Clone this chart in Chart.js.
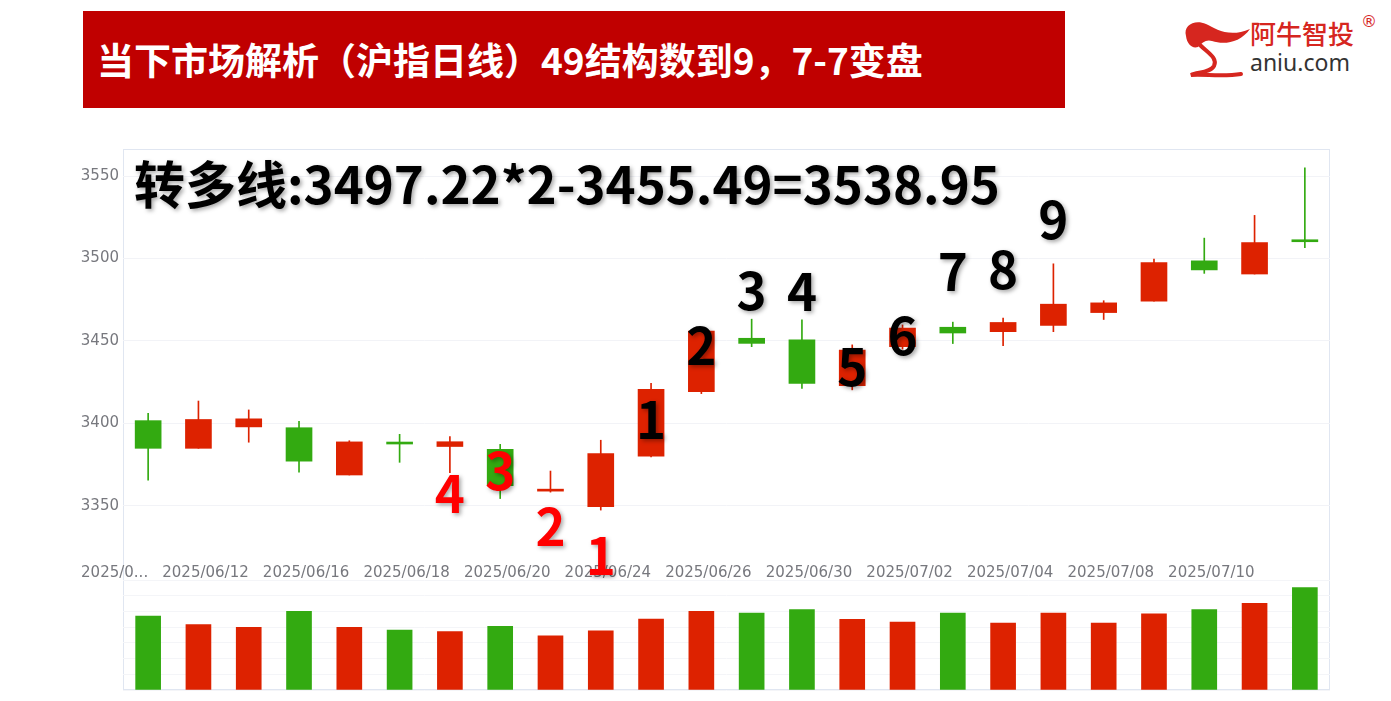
<!DOCTYPE html>
<html lang="zh">
<head>
<meta charset="utf-8">
<script src="https://cdn.jsdelivr.net/npm/chart.js"></script>
<style>
    body { margin: 0; width: 1391px; height: 701px; background: #fff; position: relative; overflow: hidden; font-family: "Noto Sans CJK SC", sans-serif; }
    .titulo { position: absolute; left: 83px; top: 11px; width: 982px; height: 97px; background: #c00000; color: #fff; font-weight: bold; font-size: 37px; line-height: 97px; padding-left: 14px; box-sizing: border-box; white-space: nowrap; }
    .logo { position: absolute; left: 1183px; top: 12px; width: 208px; height: 70px; }
    .logo svg { position: absolute; left: 0; top: 4px; }
    .logo .marca { position: absolute; left: 67px; top: 4px; font-size: 26px; line-height: 34px; color: #d6261f; font-weight: 500; }
    .logo .web { position: absolute; left: 67px; top: 36px; font-family: "Noto Sans", sans-serif; font-size: 23px; line-height: 28px; color: #333; }
    .logo .reg { position: absolute; left: 178px; top: 0px; font-family: "DejaVu Sans", sans-serif; font-size: 16px; color: #d6261f; }
    .marco { position: absolute; left: 123px; top: 149px; width: 1207px; height: 541px; border: 1px solid #e0e6f1; box-sizing: border-box; }
    #precio { position: absolute; left: 0; top: 0; }
    #volumen { position: absolute; left: 0; top: 575px; }
</style>
</head>
<body>
<div class="titulo">当下市场解析（沪指日线）49结构数到9，7-7变盘</div>
<div class="logo">
    <svg width="70" height="64" viewBox="0 0 70 64">
        <path d="M3 20 C0 9 12 3 23 8 C33 13 46 22 67 13 C57 27 41 29 29 25 C23 23 19 27 15 31 C9 33 4 28 3 20 Z" fill="#d6261f"/>
        <path d="M17 29 C25 37 35 42 31 50 C27 57 14 56 8 59 C22 58 40 61 58 58" fill="none" stroke="#d6261f" stroke-width="4" stroke-linecap="round"/>
    </svg>
    <div class="marca">阿牛智投</div>
    <div class="web">aniu.com</div>
    <div class="reg">®</div>
</div>
<div class="marco"></div>
<canvas id="precio" width="1391" height="590"></canvas>
<canvas id="volumen" width="1391" height="126"></canvas>
<script>
const fechas = ['2025/06/10', '2025/06/11', '2025/06/12', '2025/06/13', '2025/06/16', '2025/06/17', '2025/06/18', '2025/06/19',
    '2025/06/20', '2025/06/23', '2025/06/24', '2025/06/25', '2025/06/26', '2025/06/27', '2025/06/30', '2025/07/01',
    '2025/07/02', '2025/07/03', '2025/07/04', '2025/07/07', '2025/07/08', '2025/07/09', '2025/07/10', '2025/07/11'];
const etiquetasX = ['2025/0...', '', '2025/06/12', '', '2025/06/16', '', '2025/06/18', '', '2025/06/20', '', '2025/06/24', '',
    '2025/06/26', '', '2025/06/30', '', '2025/07/02', '', '2025/07/04', '', '2025/07/08', '', '2025/07/10', ''];

const apertura = [3401.6, 3384.8, 3397.8, 3397.3, 3368.6, 3387.8, 3385.9, 3384.2, 3358.8, 3349.4, 3380.1, 3419.2,
    3451.6, 3450.6, 3422.9, 3446.5, 3458.3, 3455.6, 3459.4, 3467.2, 3474.2, 3498.6, 3490.6, 3511.2];
const cierre = [3384.8, 3402.3, 3402.7, 3377.0, 3388.7, 3387.4, 3388.8, 3362.1, 3359.9, 3381.6, 3420.6, 3456.0,
    3448.5, 3424.2, 3444.4, 3457.8, 3454.8, 3461.2, 3472.3, 3473.1, 3497.5, 3493.1, 3509.7, 3510.2];
const maximo = [3406.1, 3413.5, 3408.1, 3401.2, 3389.4, 3393.3, 3391.9, 3387.2, 3371.0, 3389.7, 3424.3, 3457.0,
    3463.2, 3462.8, 3447.6, 3459.7, 3461.4, 3463.8, 3496.8, 3474.4, 3499.6, 3512.4, 3526.2, 3555.0];
const minimo = [3365.4, 3384.8, 3388.5, 3370.3, 3368.6, 3376.3, 3370.0, 3354.3, 3358.2, 3347.3, 3379.5, 3418.0,
    3446.5, 3421.1, 3420.3, 3445.0, 3448.4, 3447.1, 3455.6, 3463.0, 3474.2, 3491.0, 3490.6, 3506.6];
const volumen = [471, 416, 399, 501, 399, 382, 371, 405, 344, 377, 452, 501,
    490, 511, 450, 433, 490, 426, 490, 426, 484, 511, 552, 651];

const ticksPrecio = [3350, 3400, 3450, 3500, 3550];
const ticksVolumen = [0, 100, 200, 300, 400, 500, 600, 700];

const textoPrincipal = '转多线:3497.22*2-3455.49=3538.95';
const anotTexto = ['4', '3', '2', '1', '1', '2', '3', '4', '5', '6', '7', '8', '9'];
const anotIndice = [6, 7, 8, 9, 10, 11, 12, 13, 14, 15, 16, 17, 18];
const anotValor = [3357.1, 3371.0, 3337.0, 3319.4, 3402.0, 3446.9, 3480.3, 3479.7, 3434.2, 3453.0, 3491.9, 3493.1, 3523.5];
const anotColor = ['#ff0000', '#ff0000', '#ff0000', '#ff0000', '#000', '#000', '#000', '#000', '#000', '#000', '#000', '#000', '#000'];

const ROJO = '#dd2200';
const VERDE = '#33aa11';
const colorVela = apertura.map((o, i) => cierre[i] >= o ? ROJO : VERDE);

// textos encima de las velas
const pluginTextos = {
    id: 'textos',
    afterDatasetsDraw(chart) {
        const ctx = chart.ctx;
        const x = chart.scales.x;
        const y = chart.scales.y;
        ctx.save();
        ctx.shadowColor = 'rgba(0, 0, 0, 0.35)';
        ctx.shadowBlur = 4;
        ctx.shadowOffsetX = 2;
        ctx.shadowOffsetY = 2;
        ctx.font = 'bold 51px "Noto Sans CJK SC"';
        ctx.fillStyle = '#000';
        ctx.textAlign = 'left';
        ctx.textBaseline = 'alphabetic';
        ctx.fillText(textoPrincipal, 134, 204);
        ctx.textAlign = 'center';
        ctx.textBaseline = 'middle';
        anotTexto.forEach((t, i) => {
            ctx.fillStyle = anotColor[i];
            ctx.fillText(t, x.getPixelForValue(anotIndice[i]), y.getPixelForValue(anotValor[i]));
        });
        ctx.restore();
    }
};

const fuenteEje = { family: '"DejaVu Sans"', size: 15 };

new Chart(document.querySelector('#precio'), {
    type: 'bar',
    data: {
        labels: fechas,
        datasets: [{
            label: 'cuerpo',
            data: apertura.map((o, i) => [Math.min(o, cierre[i]), Math.max(o, cierre[i])]),
            backgroundColor: colorVela,
            barThickness: 26,
            minBarLength: 2,
            grouped: false
        }, {
            label: 'mecha',
            data: minimo.map((l, i) => [l, maximo[i]]),
            backgroundColor: colorVela,
            barThickness: 1,
            grouped: false
        }]
    },
    options: {
        responsive: false,
        devicePixelRatio: 1,
        animation: false,
        layout: { padding: { left: 78, right: 61, top: 149, bottom: 0 } },
        plugins: { legend: { display: false }, tooltip: { enabled: false } },
        scales: {
            x: {
                offset: true,
                grid: { display: false, drawTicks: false },
                border: { display: false },
                ticks: {
                    autoSkip: false, maxRotation: 0, align: 'end', padding: 4,
                    color: '#77787e', font: fuenteEje,
                    callback: (v, i) => etiquetasX[i]
                },
                afterFit: (s) => { s.height = 30; }
            },
            y: {
                min: 3317, max: 3566.5,
                grid: { color: '#f2f3f7', drawTicks: false },
                border: { display: false },
                ticks: { color: '#77787e', font: fuenteEje, padding: 4, callback: (v) => String(v) },
                afterBuildTicks: (s) => { s.ticks = ticksPrecio.map(v => ({ value: v })); },
                afterFit: (s) => { s.width = 45; }
            }
        }
    },
    plugins: [pluginTextos]
});

new Chart(document.querySelector('#volumen'), {
    type: 'bar',
    data: {
        labels: fechas,
        datasets: [{
            label: 'volumen',
            data: volumen,
            backgroundColor: colorVela,
            barThickness: 25
        }]
    },
    options: {
        responsive: false,
        devicePixelRatio: 1,
        animation: false,
        layout: { padding: { left: 78, right: 61, top: 5, bottom: 11 } },
        plugins: { legend: { display: false }, tooltip: { enabled: false } },
        scales: {
            x: { display: false, offset: true },
            y: {
                min: 0, max: 700,
                grid: { color: '#f4f5f8', drawTicks: false },
                border: { display: false },
                ticks: { display: false },
                afterBuildTicks: (s) => { s.ticks = ticksVolumen.map(v => ({ value: v })); },
                afterFit: (s) => { s.width = 45; }
            }
        }
    }
});
</script>
</body>
</html>
